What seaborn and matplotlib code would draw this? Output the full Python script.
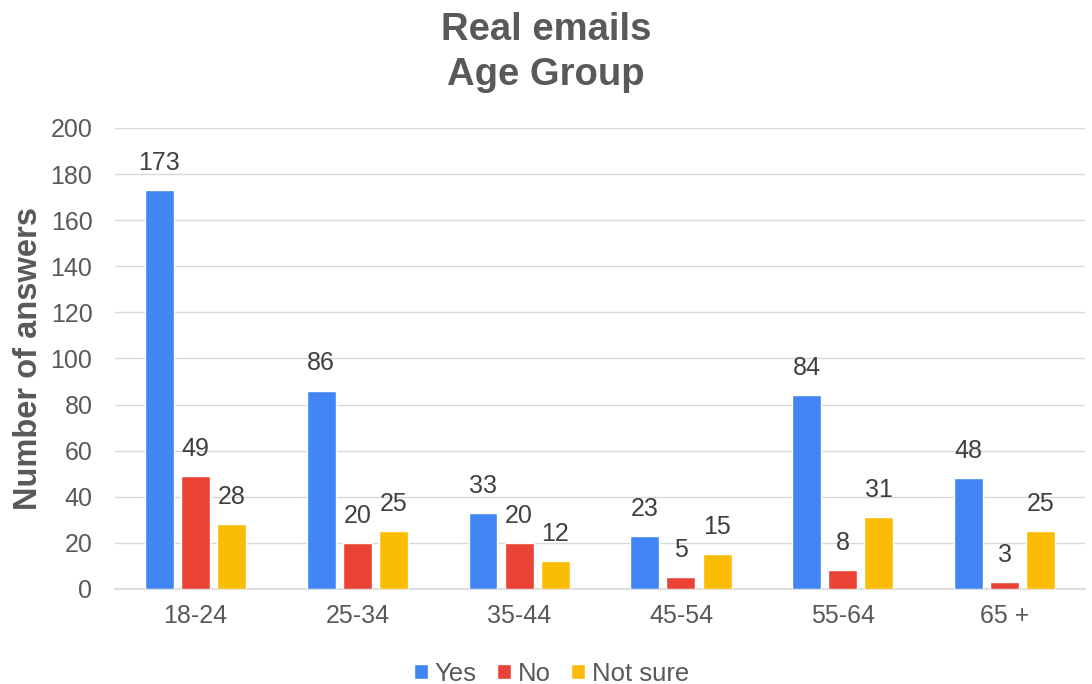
import matplotlib
matplotlib.use("Agg")
import matplotlib.pyplot as plt
import seaborn as sns
import pandas as pd

age_groups = ["18-24", "25-34", "35-44", "45-54", "55-64", "65 +"]
yes_counts = [173, 86, 33, 23, 84, 48]
no_counts = [49, 20, 20, 5, 8, 3]
not_sure_counts = [28, 25, 12, 15, 31, 25]
answers = ["Yes", "No", "Not sure"]
colors = ["#4285F4", "#EA4335", "#FBBC04"]

rows = []
for ans, vals in zip(answers, [yes_counts, no_counts, not_sure_counts]):
    for g, v in zip(age_groups, vals):
        rows.append({"Age": g, "Answer": ans, "Count": v})
df = pd.DataFrame(rows)

sns.set_theme(style="white")
plt.rcParams["font.family"] = ["Liberation Sans", "DejaVu Sans"]
text_color = "#595959"

fig = plt.figure(figsize=(10.92, 6.84), dpi=100)
ax = fig.add_axes([0.105, 0.139, 0.889, 0.674])

sns.barplot(data=df, x="Age", y="Count", hue="Answer", order=age_groups,
            hue_order=answers, palette=colors, width=0.67, gap=0.2,
            saturation=1, ax=ax, legend=True, zorder=3)

for cont in ax.containers:
    ax.bar_label(cont, padding=11, fontsize=18, color="#404040")

ax.set_ylim(0, 200)
ax.set_yticks(range(0, 201, 20))
ax.set_xlim(-0.5, 5.5)
ax.grid(axis="y", color="#d9d9d9", linewidth=1, zorder=0)
for s in ["top", "right", "left"]:
    ax.spines[s].set_visible(False)
ax.spines["bottom"].set_color("#d9d9d9")
ax.tick_params(axis="both", length=0, labelsize=18, colors=text_color)
ax.tick_params(axis="y", pad=16)
ax.tick_params(axis="x", pad=11)
ax.set_xlabel("")
ax.set_ylabel("Number of answers", fontsize=23.5, fontweight="bold", color=text_color, labelpad=5)

fig.suptitle("Real emails\nAge Group", x=0.5, y=0.982, fontsize=27.5, fontweight="bold",
             color=text_color, linespacing=1.3)

leg = ax.legend(loc="lower center", bbox_to_anchor=(0.45, -0.26), ncol=3, frameon=False,
                fontsize=18.5, handlelength=0.55, handleheight=0.55, handletextpad=0.25,
                columnspacing=0.8)
for t in leg.get_texts():
    t.set_color(text_color)

fig.savefig("out.png", dpi=100)
